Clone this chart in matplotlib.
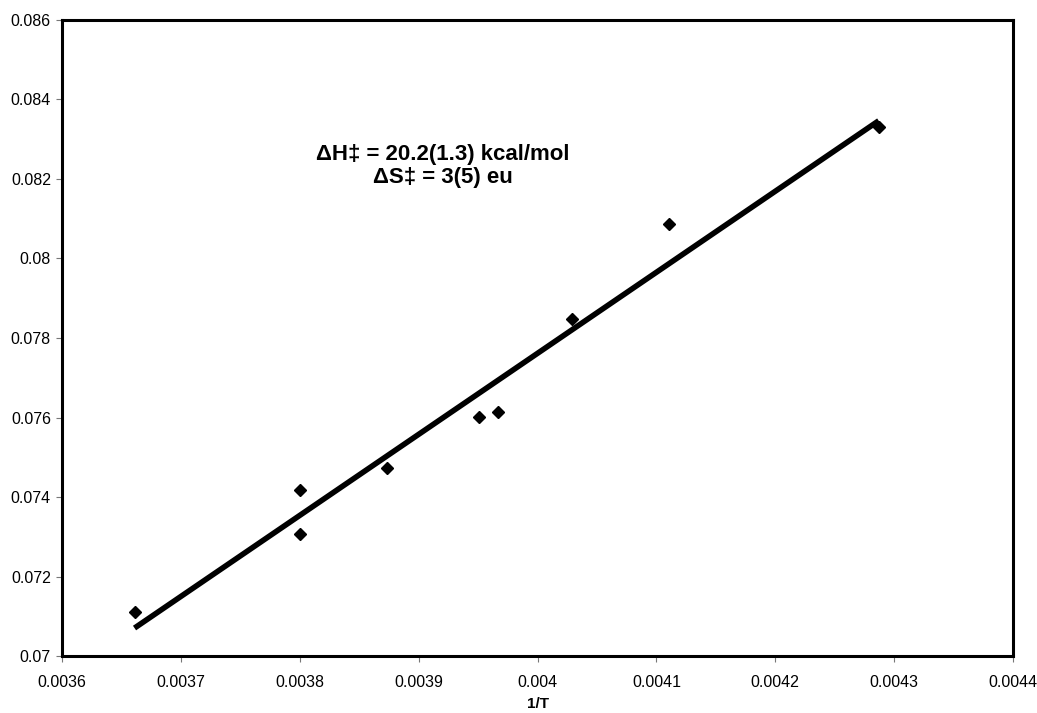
import numpy as np
import matplotlib
matplotlib.use("Agg")
import matplotlib.pyplot as plt

plt.rcParams['font.family'] = ['Liberation Sans', 'DejaVu Sans']

# data
inv_T = [0.003661, 0.003800, 0.003800, 0.003873, 0.003951, 0.003967, 0.004029, 0.004111, 0.004287]
yval = [0.07111, 0.07306, 0.07418, 0.07472, 0.07602, 0.07615, 0.07848, 0.08087, 0.08332]
xticks = [0.0036, 0.0037, 0.0038, 0.0039, 0.004, 0.0041, 0.0042, 0.0043, 0.0044]
xtick_labels = ['0.0036', '0.0037', '0.0038', '0.0039', '0.004', '0.0041', '0.0042', '0.0043', '0.0044']
yticks = [0.07, 0.072, 0.074, 0.076, 0.078, 0.08, 0.082, 0.084, 0.086]
ytick_labels = ['0.07', '0.072', '0.074', '0.076', '0.078', '0.08', '0.082', '0.084', '0.086']

fig = plt.figure(figsize=(10.37, 7.13), dpi=100)
ax = fig.add_axes([0.0598, 0.0799, 0.9171, 0.8921])

# linear fit
p = np.polyfit(inv_T, yval, 1)
xl = np.array([min(inv_T), max(inv_T)])
ax.plot(xl, np.polyval(p, xl), color='black', lw=4, solid_capstyle='butt', zorder=2)
ax.plot(inv_T, yval, 'D', color='black', ms=6.5, zorder=3)

ax.set_xlim(0.0036, 0.0044)
ax.set_ylim(0.07, 0.086)
ax.set_xticks(xticks)
ax.set_xticklabels(xtick_labels)
ax.set_yticks(yticks)
ax.set_yticklabels(ytick_labels)
ax.tick_params(direction='out', length=4, width=0.8, color='#777777', labelsize=11.5, pad=4)
ax.tick_params(axis='x', pad=10)
for s in ax.spines.values():
    s.set_linewidth(2.2)
    s.set_color('black')

ax.set_xlabel('1/T', fontsize=11, fontweight='bold', labelpad=5)

ax.text(0.40, 0.77, 'ΔH‡ = 20.2(1.3) kcal/mol\nΔS‡ = 3(5) eu', transform=ax.transAxes,
        ha='center', va='center', fontsize=16, fontweight='bold', linespacing=1.15)

fig.savefig('out.png', dpi=100)
